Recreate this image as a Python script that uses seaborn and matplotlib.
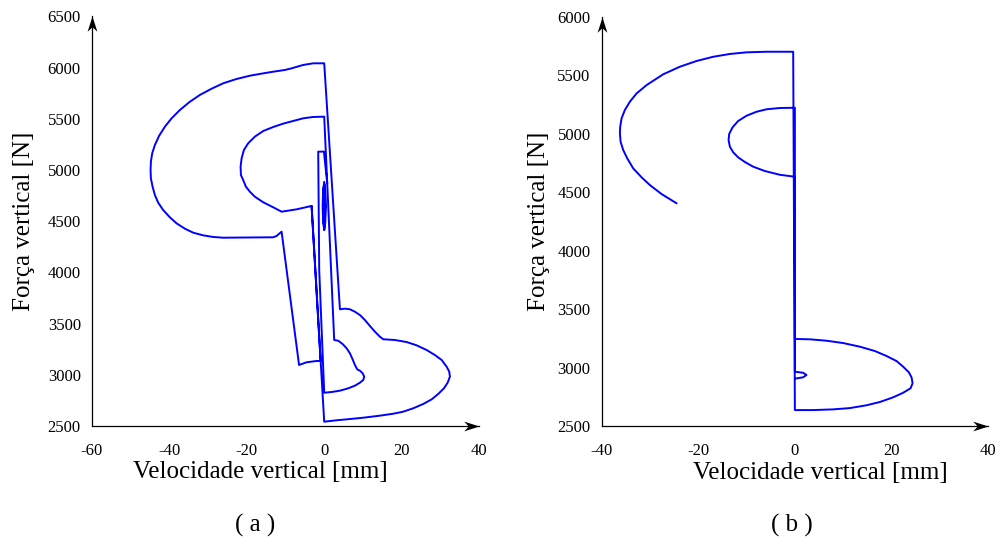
import matplotlib
matplotlib.use("Agg")
import matplotlib.pyplot as plt
from matplotlib.path import Path
import seaborn as sns

# ---------------- data ----------------
# Panel (a): trajectory force vs. vertical velocity
a_path_x = [-3.26, 0.0,
            3.20, 5.79, 10.08, 14.39, 17.83, 20.41, 23.00, 25.58, 27.75, 29.46,
            30.93, 31.89, 32.48, 32.30, 31.63, 30.34, 28.60, 26.46, 23.88,
            21.29, 18.27, 15.25,
            14.39, 13.10, 11.81, 10.52, 9.22, 7.93, 6.64, 5.35, 4.06,
            0.0,
            -2.84, -5.43, -8.42, -10.16, -13.18, -15.76, -19.20, -22.64, -26.10,
            -29.10, -32.12, -34.70, -37.29, -39.43, -41.16, -42.64, -43.75,
            -44.44, -44.78, -44.86, -44.78, -44.34, -43.75, -42.89, -41.60,
            -39.87, -38.14, -36.00, -33.85, -31.27, -28.68, -26.10,
            -13.18, -12.30, -11.01,
            -6.5, -4.6, -2.0, -0.93,
            -3.26,
            -7.13, -11.01, -13.18, -15.76, -17.91, -19.20, -20.23, -20.93,
            -21.52, -21.60, -21.34, -20.75, -19.64, -17.91, -15.76, -13.18,
            -10.59, -8.01, -5.43, -2.84, 0.0,
            0.78, 2.58,
            3.62, 4.75, 5.79, 6.64, 7.34, 7.93, 8.53, 9.22, 9.92, 10.34, 10.08,
            9.22, 7.93, 6.20, 4.06, 1.91, 0.0,
            -1.29, -1.55, -0.08, 0.78]
a_path_y = [4649, 2542,
            2556, 2565, 2581, 2601, 2620, 2640, 2673, 2715, 2760, 2813,
            2868, 2923, 2982, 3031, 3079, 3145, 3193, 3242, 3288,
            3320, 3340, 3347,
            3372, 3421, 3477, 3535, 3584, 3616, 3640, 3646, 3640,
            6042,
            6042, 6026, 5993, 5977, 5960, 5944, 5921, 5889, 5847,
            5794, 5733, 5667, 5586, 5505, 5423, 5335, 5244,
            5163, 5081, 5000, 4919, 4837, 4756, 4681, 4609,
            4538, 4479, 4427, 4388, 4362, 4346, 4339,
            4343, 4356, 4398,
            3096, 3122, 3135, 3135,
            4649,
            4616, 4593, 4636, 4685, 4739, 4788, 4837, 4902,
            4951, 5033, 5114, 5195, 5261, 5326, 5381, 5420,
            5453, 5479, 5505, 5518, 5521,
            4870, 3340,
            3333, 3301, 3259, 3210, 3151, 3096, 3053, 3040, 3015, 2982, 2949,
            2923, 2894, 2868, 2845, 2832, 2825,
            4023, 5179, 5180, 4870]

# Panel (a): small orbit around the equilibrium
a_orbit_x = [0.0, 0.28, 0.40, 0.28, 0.0, -0.28, -0.40, -0.28, 0.0,
             0.20, 0.28, 0.20, 0.0, -0.20, -0.28, -0.20, 0.0]
a_orbit_y = [4415, 4490, 4650, 4810, 4885, 4810, 4650, 4490, 4415,
             4500, 4650, 4800, 4860, 4800, 4650, 4500, 4445]

# Panel (b)
b_path_x = [-24.49, -27.60, -30.02, -31.74, -33.48, -34.72, -35.55, -36.09,
            -36.23, -36.17, -35.88, -35.20, -34.16, -32.77, -30.70, -27.27,
            -23.81, -20.35, -16.91, -13.46, -10.00, -5.86, -0.35,
            0.0,
            3.79, 7.93, 11.39, 14.84, 17.60, 20.35, 22.42, 23.95, 24.37, 24.16,
            23.60, 22.42, 21.06, 18.99, 16.56, 13.46, 10.00, 6.56, 3.11, 0.0,
            0.0,
            -3.11, -5.86, -7.93, -10.00, -11.74, -12.90, -13.60, -13.73, -13.46,
            -12.77, -11.74, -10.35, -8.63, -6.21, -3.11, 0.0,
            0.0,
            1.7, 2.4, 1.7, 0.35, 0.0]
b_path_y = [4407, 4486, 4563, 4629, 4706, 4792, 4863, 4934,
            5005, 5062, 5134, 5205, 5276, 5347, 5418, 5510,
            5575, 5624, 5660, 5684, 5698, 5703, 5703,
            2639,
            2639, 2645, 2656, 2680, 2708, 2748, 2787, 2825, 2868, 2919,
            2962, 3010, 3058, 3101, 3144, 3181, 3212, 3232, 3244, 3247,
            5224,
            5222, 5211, 5190, 5156, 5111, 5057, 5000, 4948, 4891,
            4843, 4800, 4760, 4720, 4683, 4651, 4634,
            2967,
            2958, 2939, 2919, 2910, 2910]

a_xticks = [-60, -40, -20, 0, 20, 40]
a_yticks = [2500, 3000, 3500, 4000, 4500, 5000, 5500, 6000, 6500]
b_xticks = [-40, -20, 0, 20, 40]
b_yticks = [2500, 3000, 3500, 4000, 4500, 5000, 5500, 6000]

x_label = "Velocidade vertical [mm]"
y_label = "Força vertical [N]"
panel_labels = ["( a )", "( b )"]

# ---------------- style ----------------
sns.set_theme(style="white")
plt.rcParams["font.family"] = ["Liberation Serif", "DejaVu Serif"]
plt.rcParams["axes.unicode_minus"] = False

LINE = "#0000ff"
LW = 1.4

# arrow head markers (concave back), tip at the marker origin
_codes = [Path.MOVETO, Path.LINETO, Path.LINETO, Path.LINETO, Path.CLOSEPOLY]
head_right = Path([(0, 0), (-1, 0.32), (-0.70, 0), (-1, -0.32), (0, 0)], _codes)
head_up = Path([(0, 0), (0.32, -1), (0, -0.70), (-0.32, -1), (0, 0)], _codes)

fig = plt.figure(figsize=(10.03, 5.4), dpi=100)
ax_a = fig.add_axes([0.0917, 0.2111, 0.3859, 0.7585])
ax_b = fig.add_axes([0.5999, 0.2105, 0.3852, 0.7580])


def style_axes(ax, xlim, ylim, xticks, yticks, xlab_x, ylab_x):
    ax.set_xlim(*xlim)
    ax.set_ylim(*ylim)
    ax.set_xticks(xticks)
    ax.set_yticks(yticks)
    ax.set_xticklabels([str(t) for t in xticks])
    ax.set_yticklabels([str(t) for t in yticks])
    for side in ("top", "right"):
        ax.spines[side].set_visible(False)
    for side in ("left", "bottom"):
        ax.spines[side].set_color("black")
        ax.spines[side].set_linewidth(0.9)
    ax.tick_params(axis="both", direction="in", length=3, width=0.8,
                   color="black", labelsize=12, labelcolor="black")
    ax.tick_params(axis="x", pad=12)
    ax.tick_params(axis="y", pad=8)
    ax.set_xlabel(x_label, fontsize=18, color="black")
    ax.set_ylabel(y_label, fontsize=18, color="black")
    ax.xaxis.set_label_coords(xlab_x, -0.086)
    ax.yaxis.set_label_coords(ylab_x, 0.5)
    ax.plot([1], [0], transform=ax.transAxes, marker=head_right, ms=22,
            color="black", mew=0, linestyle="none", clip_on=False)
    ax.plot([0], [1], transform=ax.transAxes, marker=head_up, ms=22,
            color="black", mew=0, linestyle="none", clip_on=False)
    ax.grid(False)


# ---------------- panel (a) ----------------
sns.lineplot(x=a_path_x, y=a_path_y, sort=False, estimator=None, ax=ax_a,
             color=LINE, linewidth=LW)
sns.lineplot(x=a_orbit_x, y=a_orbit_y, sort=False, estimator=None, ax=ax_a,
             color=LINE, linewidth=LW)
style_axes(ax_a, (-60, 40), (2500, 6500), a_xticks, a_yticks, 0.434, -0.147)

# ---------------- panel (b) ----------------
sns.lineplot(x=b_path_x, y=b_path_y, sort=False, estimator=None, ax=ax_b,
             color=LINE, linewidth=LW)
style_axes(ax_b, (-40, 40), (2500, 6000), b_xticks, b_yticks, 0.565, -0.134)

fig.text(255 / 1003, 1 - 525 / 540, panel_labels[0], fontsize=18,
         ha="center", va="center", color="black")
fig.text(792 / 1003, 1 - 525 / 540, panel_labels[1], fontsize=18,
         ha="center", va="center", color="black")

fig.savefig("out.png", dpi=100, facecolor="white")
